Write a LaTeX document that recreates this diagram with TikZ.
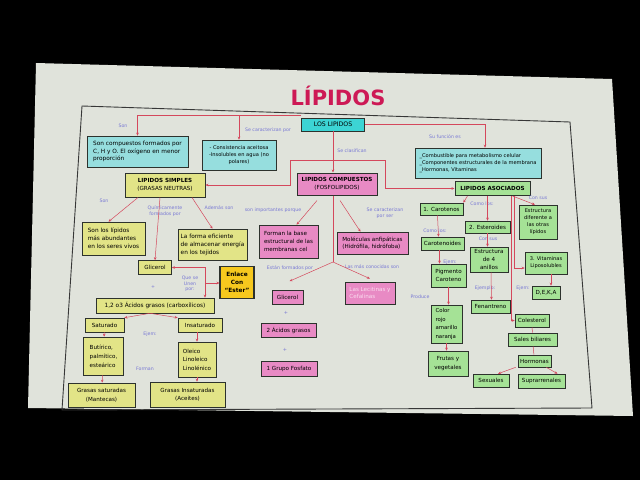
\documentclass[tikz,border=0pt]{standalone}
\usepackage{fontspec}
\setmainfont{DejaVu Sans}
\usetikzlibrary{arrows.meta,positioning,calc}
\definecolor{fondo}{RGB}{0,0,0}
\definecolor{pantalla}{RGB}{224,227,219}
\definecolor{marco}{RGB}{55,55,55}
\definecolor{titulo}{RGB}{205,25,85}
\definecolor{conector}{RGB}{212,72,92}
\definecolor{etiqueta}{RGB}{120,120,212}
\definecolor{cian}{RGB}{150,222,222}
\definecolor{cianfuerte}{RGB}{60,212,212}
\definecolor{amarillo}{RGB}{226,228,135}
\definecolor{rosa}{RGB}{232,138,196}
\definecolor{rosatexto}{RGB}{250,222,240}
\definecolor{verde}{RGB}{165,226,150}
\definecolor{naranja}{RGB}{246,200,30}
\definecolor{borde}{RGB}{45,50,45}

\newcommand{\letra}{\fontsize{5.6}{7.6}\selectfont}
\newcommand{\letrita}{\fontsize{5.1}{7}\selectfont}
\newcommand{\letraetiq}{\fontsize{4.7}{5.7}\selectfont}

\tikzset{
  caja/.style={draw=borde, line width=0.6pt, inner sep=1pt, font=\letra, align=center},
  cajacian/.style={caja, fill=cian},
  cajaamar/.style={caja, fill=amarillo},
  cajarosa/.style={caja, fill=rosa},
  cajaverde/.style={caja, fill=verde},
  etiq/.style={font=\letraetiq, text=etiqueta, align=center, inner sep=0pt},
  flecha/.style={draw=conector, line width=0.5pt, -{Stealth[length=3pt,width=2.6pt]}},
  linea/.style={draw=conector, line width=0.5pt},
}

\begin{document}
\begin{tikzpicture}[x=1pt, y=-1pt]
  \useasboundingbox (0,0) rectangle (640,480);
  \fill[fondo] (0,0) rectangle (640,480);
  \fill[pantalla] (36,63) -- (612,79) -- (633,416) -- (28,408) -- cycle;
  \draw[marco, line width=0.9pt] (82,106) -- (570,122) -- (592,408) -- (62,410) -- cycle;

  \node[font=\fontsize{21}{24}\selectfont\bfseries, text=titulo] (titulo) at (338,96) {LÍPIDOS};

  % nivel superior
  \node[caja, fill=cianfuerte, minimum width=63pt, minimum height=13pt, font=\fontsize{6.2}{7}\selectfont] (lospidos) at (333,124.5) {LOS LIPIDOS};
  \node[cajacian, minimum width=101pt, minimum height=31pt, align=left, font=\fontsize{5.8}{7.8}\selectfont] (compA) at (137.5,151.5)
    {Son compuestos formados por\\C, H y O. El oxígeno en menor\\proporción};
  \node[cajacian, minimum width=74pt, minimum height=30pt, font=\letrita] (caracB) at (239,155)
    {- Consistencia aceitosa\\-Insolubles en agua (no\\polares)};
  \node[cajacian, minimum width=126pt, minimum height=30pt, align=left, font=\letrita] (funcC) at (478,163)
    {\_Combustible para metabolismo celular\\\_Componentes estructurales de la membrana\\\_Hormonas, Vitaminas};

  \node[cajaamar, line width=1pt, minimum width=80pt, minimum height=24pt] (simples) at (165,185)
    {\textbf{LIPIDOS SIMPLES}\\(GRASAS NEUTRAS)};
  \node[cajarosa, line width=1pt, minimum width=80pt, minimum height=22pt] (compuestos) at (337,184)
    {\textbf{LIPIDOS COMPUESTOS}\\(FOSFOLIPIDOS)};
  \node[cajaverde, line width=1pt, minimum width=75pt, minimum height=14pt] (asociados) at (492.5,188.5)
    {\textbf{LIPIDOS ASOCIADOS}};

  \node[etiq] (eSon) at (123,126) {Son};
  \node[etiq] (eCarac) at (268,130) {Se caracterizan por};
  \node[etiq] (eClasif) at (352,151) {Se clasifican};
  \node[etiq] (eFuncion) at (445,137) {Su función es};

  % lipidos simples
  \node[cajaamar, minimum width=63pt, minimum height=33pt, align=left, font=\fontsize{5.8}{8}\selectfont] (abund) at (113.5,238.5)
    {Son los lípidos\\más abundantes\\en los seres vivos};
  \node[cajaamar, minimum width=69pt, minimum height=31pt, align=left, font=\fontsize{5.8}{8}\selectfont] (energia) at (212.5,244.5)
    {La forma eficiente\\de almacenar energía\\en los tejidos};
  \node[cajaamar, minimum width=33pt, minimum height=14pt] (glicS) at (155,267.5) {Glicerol};
  \node[caja, fill=naranja, line width=1.1pt, minimum width=34pt, minimum height=32pt, font=\fontsize{5.8}{7.8}\selectfont\bfseries] (enlace) at (237,282.5)
    {Enlace\\Con\\``Ester''};
  \node[cajaamar, minimum width=118pt, minimum height=15pt, font=\fontsize{5.8}{7}\selectfont] (acidos) at (155,305.5)
    {1,2 o3 Ácidos grasos (carboxílicos)};
  \node[cajaamar, minimum width=39pt, minimum height=14pt] (saturado) at (104.5,325) {Saturado};
  \node[cajaamar, minimum width=44pt, minimum height=14pt] (insaturado) at (200,325) {Insaturado};
  \node[cajaamar, minimum width=40pt, minimum height=38pt, align=left, font=\fontsize{5.6}{9}\selectfont] (butirico) at (103.5,356)
    {Butírico,\\palmítico,\\esteárico};
  \node[cajaamar, minimum width=38pt, minimum height=35pt, align=left, font=\fontsize{5.6}{8.5}\selectfont] (oleico) at (197,359.5)
    {Oleico\\Linoleico\\Linolénico};
  \node[cajaamar, minimum width=67pt, minimum height=24pt, font=\fontsize{5.6}{8.5}\selectfont] (grasSat) at (101.5,395)
    {Grasas saturadas\\(Mantecas)};
  \node[cajaamar, minimum width=75pt, minimum height=25pt, font=\fontsize{5.6}{8.5}\selectfont] (grasIns) at (187.5,394.5)
    {Grasas Insaturadas\\(Aceites)};

  \node[etiq] (eSon2) at (104,201) {Son};
  \node[etiq] (eQuim) at (165,211) {Químicamente\\formados por};
  \node[etiq] (eAdemas) at (219,208) {Además son};
  \node[etiq] (eUnen) at (190,284) {Que se\\Unen\\por:};
  \node[etiq] (eEjem) at (150,334) {Ejem:};
  \node[etiq] (eForman) at (145,369) {Forman};
  \node[etiq] (eMas) at (153,287) {+};

  % lipidos compuestos
  \node[cajarosa, minimum width=59pt, minimum height=33pt, align=left] (membr) at (288.5,241.5)
    {Forman la base\\estructural de las\\membranas cel};
  \node[cajarosa, minimum width=71pt, minimum height=22pt, align=left] (anfi) at (372.5,243)
    {Moléculas anfipáticas\\(Hidrófila, hidrófoba)};
  \node[cajarosa, minimum width=31pt, minimum height=14pt] (glicC) at (287.5,297.5) {Glicerol};
  \node[cajarosa, minimum width=55pt, minimum height=14pt] (dosAc) at (288.5,330) {2 Ácidos grasos};
  \node[cajarosa, minimum width=56pt, minimum height=15pt] (fosf) at (289,368.5) {1 Grupo Fosfato};
  \node[cajarosa, minimum width=50pt, minimum height=22pt, align=left, text=rosatexto] (lecit) at (370,293)
    {Las Lecitinas y\\Cefalinas};
  \node[etiq, font=\fontsize{5}{6}\selectfont] (mas1) at (286,313) {+};
  \node[etiq, font=\fontsize{5}{6}\selectfont] (mas2) at (285,350) {+};

  \node[etiq] (eImport) at (273,210) {son importantes porque};
  \node[etiq] (eSer) at (385,213) {Se caracterizan\\por ser};
  \node[etiq] (eFormados) at (290,268) {Están formados por};
  \node[etiq] (eConocidas) at (372,267) {Las más conocidas son};

  % lipidos asociados
  \node[cajaverde, minimum width=43pt, minimum height=12pt] (carotenos) at (441.5,209) {1. Carotenos};
  \node[cajaverde, minimum width=43pt, minimum height=13pt] (carotenoides) at (442.5,243.5) {Carotenoides};
  \node[cajaverde, minimum width=35pt, minimum height=23pt] (pigmento) at (448.5,275.5) {Pigmento\\Caroteno};
  \node[cajaverde, minimum width=31pt, minimum height=38pt, align=left, font=\fontsize{5.4}{8.5}\selectfont] (color) at (446.5,324)
    {Color\\rojo\\amarillo\\naranja};
  \node[cajaverde, minimum width=40pt, minimum height=25pt, font=\fontsize{5.6}{8.5}\selectfont] (frutos) at (448,363.5) {Frutas y\\vegetales};
  \node[cajaverde, minimum width=45pt, minimum height=12pt] (esteroides) at (487.5,227) {2. Esteroides};
  \node[cajaverde, minimum width=38pt, minimum height=25pt] (anillos) at (489,259.5) {Estructura\\de 4\\anillos};
  \node[cajaverde, minimum width=39pt, minimum height=13pt] (fenantreno) at (490.5,306.5) {Fenantreno};
  \node[cajaverde, minimum width=38pt, minimum height=34pt, font=\letrita] (diferente) at (538,222)
    {Estructura\\diferente a\\las otras\\lípidos};
  \node[cajaverde, minimum width=42pt, minimum height=22pt, font=\letrita] (vitaminas) at (546,263) {3. Vitaminas\\Liposolubles};
  \node[cajaverde, minimum width=28pt, minimum height=13pt] (deka) at (546,292.5) {D,E,K,A};
  \node[cajaverde, minimum width=34pt, minimum height=13pt] (colesterol) at (532,320.5) {Colesterol};
  \node[cajaverde, minimum width=49pt, minimum height=13pt] (sales) at (532.5,339.5) {Sales biliares};
  \node[cajaverde, minimum width=33pt, minimum height=12pt] (hormonas) at (534.5,361) {Hormonas};
  \node[cajaverde, minimum width=36pt, minimum height=13pt] (sexuales) at (491,380.5) {Sexuales};
  \node[cajaverde, minimum width=47pt, minimum height=14pt] (suprarr) at (541.5,381) {Suprarrenales};

  \node[etiq] (eComo1) at (482,204) {Como los:};
  \node[etiq] (eCon1) at (538,198) {Con sus};
  \node[etiq] (eComo2) at (435,231) {Como los:};
  \node[etiq] (eCon2) at (488,239) {Con sus};
  \node[etiq] (eEjem2) at (450,262) {Ejem:};
  \node[etiq] (eEjemplo) at (485,288) {Ejemplo:};
  \node[etiq] (eEjem3) at (523,288) {Ejem:};
  \node[etiq] (eProduce) at (420,297) {Produce};

  % conectores
  \coordinate (ramal) at (333,160);
  \coordinate (codoS) at (290,185);
  \coordinate (codoA) at (385,188.5);
  \coordinate (union) at (205,283);
  \coordinate (nudo) at (333,262);

  \draw[flecha] ([yshift=2pt]lospidos.north west) -| (compA.north);
  \draw[flecha] ([yshift=2pt]lospidos.north west -| caracB.north) -- (caracB.north);
  \draw[flecha] (lospidos.east) -| ([xshift=7pt]funcC.north);
  \draw[flecha] (lospidos.south) -- (lospidos.south |- compuestos.north);
  \draw[flecha] (ramal) -| (codoS) -- (simples.east);
  \draw[flecha] (ramal) -| (codoA) -- (asociados.west);

  \draw[flecha] ([xshift=-27pt]simples.south) -- ([xshift=-5pt]abund.north);
  \draw[flecha] ([xshift=-5pt]simples.south) -- (glicS.north);
  \draw[flecha] ([xshift=27pt]simples.south) -- (energia.north);
  \draw[flecha] (union) |- (glicS.east);
  \draw[flecha] (union) -- (union -| enlace.west);
  \draw[flecha] (union) -- (union |- acidos.north);
  \draw[flecha] ([xshift=-5pt]acidos.south) -- (saturado.north east);
  \draw[flecha] ([xshift=-5pt]acidos.south) -- (insaturado.north west);
  \draw[flecha] (saturado) -- (butirico);
  \draw[flecha] (butirico) -- (grasSat);
  \draw[flecha] (insaturado.south -| oleico.north) -- (oleico.north);
  \draw[flecha] (oleico) -- (oleico |- grasIns.north);

  \draw[flecha] ([xshift=-20pt,yshift=-5pt]compuestos.south) -- ([xshift=8pt]membr.north);
  \draw[flecha] ([xshift=3pt,yshift=-5pt]compuestos.south) -- ([xshift=-12pt]anfi.north);
  \draw[linea] (lospidos.south |- compuestos.south) -- (nudo);
  \draw[flecha] (nudo) -- ([xshift=2pt,yshift=9pt]glicC.north);
  \draw[flecha] (nudo) -- ([yshift=3pt]lecit.north);

  \draw[flecha] ([xshift=-25pt]asociados.south) -- (carotenos.north east);
  \draw[flecha] ([xshift=-4pt]carotenos.south) -- ([xshift=-4pt]carotenoides.north);
  \draw[flecha] ([xshift=-3pt]carotenoides.south) -- ([xshift=-9pt]pigmento.north);
  \draw[flecha] (pigmento) -- (pigmento |- color.north);
  \draw[flecha] (color) -- (color |- frutos.north);
  \draw[flecha] (asociados.south -| esteroides.north) -- (esteroides.north);
  \draw[flecha] (esteroides) -- (esteroides |- anillos.north);
  \draw[flecha] ([xshift=2pt]anillos.south) -- ([xshift=1pt]fenantreno.north);
  \draw[flecha] ([xshift=20pt]asociados.south) -- ([xshift=-3pt]diferente.north);
  \draw[flecha] ([xshift=22pt]asociados.south) |- ([yshift=-5pt]vitaminas.west);
  \draw[flecha] ([xshift=19pt]asociados.south) |- (colesterol.west);
  \draw[flecha] ([xshift=5pt]vitaminas.south) -- ([xshift=5pt]deka.north);
  \draw[linea] (colesterol) -- (sales);
  \draw[linea] (sales) -- (hormonas);
  \draw[flecha] ([xshift=-2pt]hormonas.south west) -- ([xshift=7pt]sexuales.north);
  \draw[flecha] ([xshift=-5pt]hormonas.south east) -- ([xshift=16pt]suprarr.north);
\end{tikzpicture}
\end{document}
